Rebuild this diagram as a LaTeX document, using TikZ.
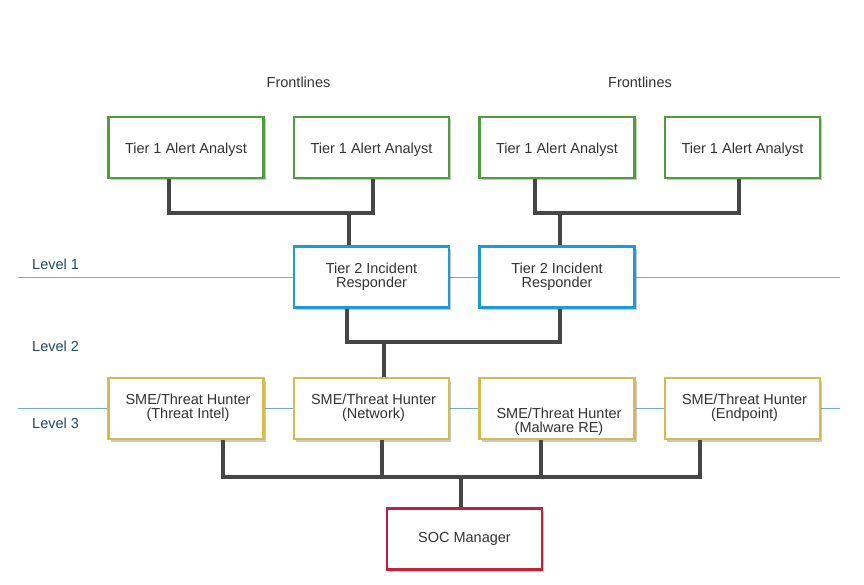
\documentclass[tikz,border=0pt]{standalone}
\usepackage{fontspec}
\setmainfont{Liberation Sans}
\usetikzlibrary{shadows}
\definecolor{txt}{HTML}{333333}
\definecolor{lvltxt}{HTML}{1F4A66}
\definecolor{lvlline}{HTML}{6AAED0}
\definecolor{gbord}{HTML}{4E9E3E}
\definecolor{bbord}{HTML}{1E9AD6}
\definecolor{ybord}{HTML}{D6BC4E}
\definecolor{rbord}{HTML}{C0223B}
\definecolor{conn}{HTML}{464646}
\tikzset{
  box/.style={rectangle, draw, line width=2.2pt, fill=white, minimum width=155pt, minimum height=61pt,
    align=center, text=txt, font=\fontsize{14.5}{15}\selectfont, inner sep=0pt,
    drop shadow={shadow xshift=2pt, shadow yshift=-2.5pt, opacity=0.3, fill=black!70}},
  tier1/.style={box, draw=gbord, text height=15.5pt, text depth=3pt},
  tier2/.style={box, draw=bbord},
  sme/.style={box, draw=ybord},
  mgr/.style={box, draw=rbord},
  lbl/.style={text=txt, font=\fontsize{14.5}{15}\selectfont, inner sep=0pt},
  lvl/.style={text=lvltxt, font=\fontsize{14.5}{15}\selectfont, inner sep=0pt, anchor=west},
  lvlline/.style={draw=lvlline, line width=1pt},
  wire/.style={draw=conn, line width=3.6pt}
}
\newcommand{\smetext}[3][0pt]{\hspace*{4pt}\raisebox{#1}[\height][\depth]{\begin{tabular}{@{}c@{}}#2\\[-0.5pt]#3\end{tabular}}}
\begin{document}
\begin{tikzpicture}[x=1pt,y=-1pt]
\useasboundingbox (0,0) rectangle (864,585);
% level lines
\coordinate (l1s) at (18,277);
\coordinate (l1e) at (840,277);
\coordinate (l3s) at (18,408);
\coordinate (l3e) at (840,408);
\draw[lvlline] (l1s) -- (l1e);
\draw[lvlline] (l3s) -- (l3e);
\node[lvl] (lv1) at (32,264) {Level 1};
\node[lvl] (lv2) at (32,346) {Level 2};
\node[lvl] (lv3) at (32,423) {Level 3};
% labels
\node[lbl] (fl1) at (298.5,82) {Frontlines};
\node[lbl] (fl2) at (640,82) {Frontlines};
% tier 1
\node[tier1] (t1a) at (186,147.5) {Tier 1 Alert Analyst};
\node[tier1] (t1b) at (371.5,147.5) {Tier 1 Alert Analyst};
\node[tier1] (t1c) at (557,147.5) {Tier 1 Alert Analyst};
\node[tier1] (t1d) at (742.5,147.5) {Tier 1 Alert Analyst};
% tier 2
\node[tier2] (t2a) at (371.5,277) {Tier 2 Incident\\[-0.5pt]Responder};
\node[tier2] (t2b) at (557,277) {Tier 2 Incident\\[-0.5pt]Responder};
% sme
\node[sme] (s1) at (186,408.5) {\smetext{SME/Threat Hunter}{(Threat Intel)}};
\node[sme] (s2) at (371.5,408.5) {\smetext{SME/Threat Hunter}{(Network)}};
\node[sme] (s3) at (557,408.5) {\smetext[-14pt]{SME/Threat Hunter}{(Malware RE)}};
\node[sme] (s4) at (742.5,408.5) {\smetext{SME/Threat Hunter}{(Endpoint)}};
% manager
\node[mgr] (m) at (464.5,539) {SOC Manager};
% junction coordinates
\coordinate (j1) at (349,213);
\coordinate (j2) at (560,213);
\coordinate (j3) at (384,342);
\coordinate (j4) at (461,477);
% wires tier1 -> tier2
\draw[wire, line join=miter] ([xshift=-17pt]t1a.south) |- (j1) -| ([xshift=1.5pt]t1b.south);
\draw[wire] (j1) -- ([xshift=-22.5pt]t2a.north);
\draw[wire, line join=miter] ([xshift=-22pt]t1c.south) |- (j2) -| ([xshift=-3.5pt]t1d.south);
\draw[wire] (j2) -- ([xshift=3pt]t2b.north);
% tier2 -> sme
\draw[wire, line join=miter] ([xshift=-24.5pt]t2a.south) |- (j3) -| ([xshift=3pt]t2b.south);
\draw[wire] (j3) -- ([xshift=12.5pt]s2.north);
% sme -> manager
\draw[wire, line join=miter] ([xshift=37pt]s1.south) |- (j4) -| ([xshift=-42.5pt]s4.south);
\draw[wire] ([xshift=10.5pt]s2.south) -- ([xshift=10.5pt]s2.south |- j4);
\draw[wire] ([xshift=-16pt]s3.south) -- ([xshift=-16pt]s3.south |- j4);
\draw[wire] (j4) -- ([xshift=-3.5pt]m.north);
\end{tikzpicture}
\end{document}
